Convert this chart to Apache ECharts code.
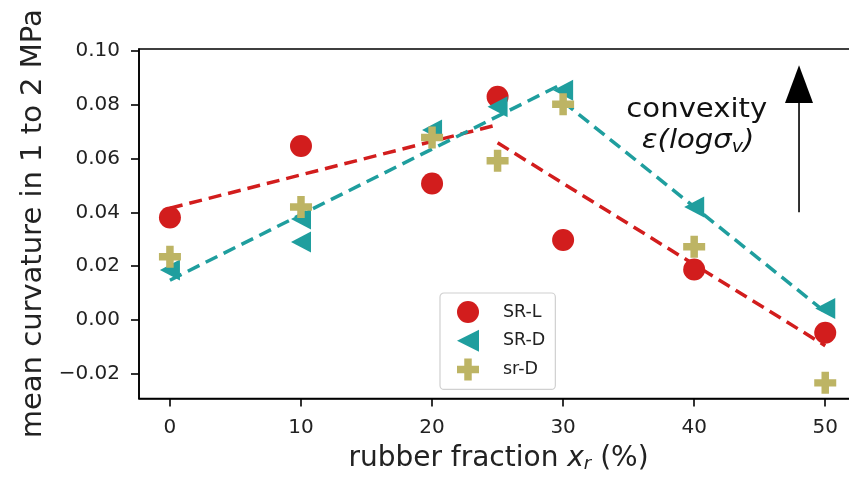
<!DOCTYPE html>
<html><head><meta charset="utf-8">
<script src="https://cdn.jsdelivr.net/npm/echarts@6/dist/echarts.min.js"></script>
<style>html,body{margin:0;padding:0;background:#fff}#c{width:849px;height:477px}</style>
</head><body><div id="c"></div>
<script>
// ---- data ----
const xTicks = [0, 10, 20, 30, 40, 50];
const yTicks = [-0.02, 0, 0.02, 0.04, 0.06, 0.08, 0.10];

const srL_x = [0, 10, 20, 25, 30, 40, 50];
const srL_y = [0.0381, 0.0646, 0.0507, 0.0829, 0.0297, 0.0188, -0.0047];

const srD_x = [0, 10, 10, 20, 25, 30, 40, 50];
const srD_y = [0.0186, 0.0375, 0.0290, 0.0705, 0.0792, 0.0853, 0.0420, 0.0043];

const srd_x = [0, 10, 20, 25, 30, 40, 50];
const srd_y = [0.0235, 0.0420, 0.0678, 0.0591, 0.0801, 0.0272, -0.0233];

// dashed trend lines (end points)
const fitL1_x = [0, 25],  fitL1_y = [0.0415, 0.0725];
const fitL2_x = [25, 50], fitL2_y = [0.0658, -0.0095];
const fitD1_x = [0, 30],  fitD1_y = [0.0148, 0.0878];
const fitD2_x = [30, 50], fitD2_y = [0.0810, 0.0030];

const seriesNames = ['SR-L', 'SR-D', 'sr-D'];
const annotation1 = 'convexity';

// ---- styles ----
const RED = '#d21d1d', TEAL = '#1f9e9e', OLIVE = '#bdb464';
const FONT = 'DejaVu Sans';
const TRI = 'path://M0,5 L10,0 L10,10 Z';
const PLUS = 'path://M3.3,0 H6.7 V3.3 H10 V6.7 H6.7 V10 H3.3 V6.7 H0 V3.3 H3.3 Z';
const zip = (a, b) => a.map((v, i) => [v, b[i]]);

function fitSeries(xs, ys, color) {
  return {
    type: 'line', data: zip(xs, ys), showSymbol: false, symbol: 'none', z: 1,
    lineStyle: { color: color, width: 3.5, type: [13, 7] }, silent: true, animation: false
  };
}

const chart = echarts.init(document.getElementById('c'), null, { renderer: 'canvas' });
const option = {
  animation: false,
  backgroundColor: '#fff',
  grid: { left: 139, top: 49, width: 719, height: 349.5, show: true, borderColor: '#000', borderWidth: 1.6,
          containLabel: false, outerBoundsMode: 'none' },
  xAxis: {
    type: 'value', min: -2.36, max: 52.5,
    name: 'rubber fraction {i|x}{s|r} (%)', nameLocation: 'middle', nameGap: 45,
    nameTextStyle: { fontFamily: FONT, fontSize: 28, color: '#222',
      rich: { i: { fontFamily: FONT, fontSize: 28, fontStyle: 'italic', color: '#222' },
              s: { fontFamily: FONT, fontSize: 18, fontStyle: 'italic', color: '#222', padding: [12, 0, 0, 0] } } },
    axisLine: { onZero: false, lineStyle: { color: '#000', width: 1.6 } },
    axisTick: { show: true, length: 8, lineStyle: { color: '#000', width: 1.6 }, customValues: xTicks },
    axisLabel: { customValues: xTicks, fontFamily: FONT, fontSize: 20, color: '#222', margin: 19 },
    splitLine: { show: false }
  },
  yAxis: {
    type: 'value', min: -0.0291, max: 0.1006,
    name: 'mean curvature in 1 to 2 MPa', nameLocation: 'middle', nameGap: 90,
    nameTextStyle: { fontFamily: FONT, fontSize: 29, color: '#222' },
    axisLine: { onZero: false, lineStyle: { color: '#000', width: 1.6 } },
    axisTick: { show: true, length: 8, lineStyle: { color: '#000', width: 1.6 }, customValues: yTicks },
    axisLabel: { customValues: yTicks, fontFamily: FONT, fontSize: 20, color: '#222', margin: 19,
      formatter: v => (v < 0 ? '\u2212' : '') + Math.abs(v).toFixed(2) },
    splitLine: { show: false }
  },
  legend: {
    orient: 'vertical', left: 440, top: 293,
    padding: [8, 10, 9, 17], itemGap: 6.7, itemWidth: 22, itemHeight: 22,
    backgroundColor: 'rgba(255,255,255,0.85)', borderColor: '#d0d0d0', borderWidth: 1.2, borderRadius: 4,
    formatter: n => '{a|' + n + '}',
    textStyle: { fontFamily: FONT, fontSize: 17.5, color: '#222',
      rich: { a: { fontFamily: FONT, fontSize: 17.5, color: '#222', padding: [0, 0, 0, 19] } } },
    data: [
      { name: seriesNames[0], icon: 'circle' },
      { name: seriesNames[1], icon: TRI },
      { name: seriesNames[2], icon: PLUS }
    ]
  },
  series: [
    fitSeries(fitL1_x, fitL1_y, RED),
    fitSeries(fitL2_x, fitL2_y, RED),
    fitSeries(fitD1_x, fitD1_y, TEAL),
    fitSeries(fitD2_x, fitD2_y, TEAL),
    { name: seriesNames[0], type: 'scatter', data: zip(srL_x, srL_y), symbol: 'circle', symbolSize: 22, z: 2,
      itemStyle: { color: RED, opacity: 1 } },
    { name: seriesNames[1], type: 'scatter', data: zip(srD_x, srD_y), symbol: TRI, symbolSize: [20, 21], z: 3,
      itemStyle: { color: TEAL, opacity: 1 } },
    { name: seriesNames[2], type: 'scatter', data: zip(srd_x, srd_y), symbol: PLUS, symbolSize: 22, z: 4,
      itemStyle: { color: OLIVE, opacity: 1 } }
  ]
};
chart.setOption(option);

// annotation: arrow + text placed in data coordinates
const arrowX = 48, arrowY0 = 0.040, arrowBase = 0.0806, arrowTip = 0.0946;
const p0 = chart.convertToPixel({ gridIndex: 0 }, [arrowX, arrowY0]);
const pb = chart.convertToPixel({ gridIndex: 0 }, [arrowX, arrowBase]);
const pt = chart.convertToPixel({ gridIndex: 0 }, [arrowX, arrowTip]);
const t1 = chart.convertToPixel({ gridIndex: 0 }, [40.2, 0.0779]);
const t2 = chart.convertToPixel({ gridIndex: 0 }, [40.3, 0.0663]);
chart.setOption({
  graphic: [
    { type: 'line', shape: { x1: p0[0], y1: p0[1], x2: pb[0], y2: pb[1] }, style: { stroke: '#000', lineWidth: 1.6 }, z: 10 },
    { type: 'polygon', shape: { points: [[pt[0], pt[1]], [pb[0] - 14, pb[1]], [pb[0] + 14, pb[1]]] }, style: { fill: '#000' }, z: 10 },
    { type: 'text', x: t1[0], y: t1[1], scaleX: 1.12, z: 10,
      style: { text: annotation1, font: '26px "DejaVu Sans"', fill: '#111', align: 'center', verticalAlign: 'middle' } },
    { type: 'text', x: t2[0], y: t2[1], scaleX: 1.12, z: 10,
      style: { text: '{i|\u03b5}(log\u03c3{s|v})', font: 'italic 26px "DejaVu Sans"', fill: '#111', align: 'center', verticalAlign: 'middle',
        rich: { i: { font: 'italic 26px "DejaVu Sans"', fill: '#111' },
                s: { font: 'italic 17px "DejaVu Sans"', fill: '#111', padding: [12, 0, 0, 0] } } } }
  ]
});
</script></body></html>
